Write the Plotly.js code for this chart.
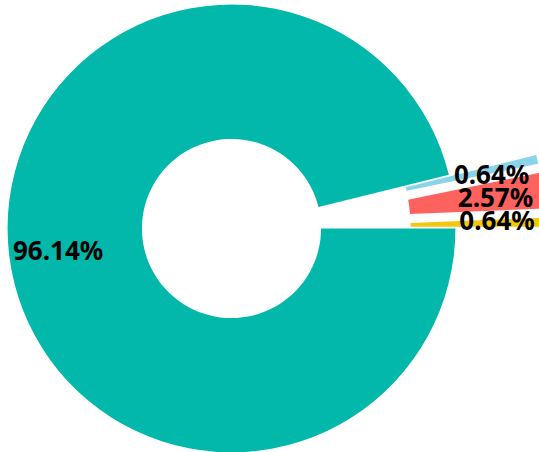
<!DOCTYPE html>
<html>
<head>
<meta charset="utf-8">
<script src="https://cdn.plot.ly/plotly-3.0.1.min.js"></script>
<style>
html, body { margin: 0; padding: 0; overflow: hidden; width: 539px; height: 452px; background: #ffffff; }
#chart { position: absolute; left: -82px; top: -85px; width: 627px; height: 627px; }
</style>
</head>
<body>
<div id="chart"></div>
<script>
// Data (counts giving 96.14% / 0.64% / 2.57% / 0.64%)
const categories = ['Category A', 'Category B', 'Category C', 'Category D'];
const counts = [299, 2, 8, 2];

const colors = ['#01B8AA', '#8AD4EB', '#FD625E', '#F2C80F'];
const clear = ['rgba(0,0,0,0)', 'rgba(0,0,0,0)', 'rgba(0,0,0,0)', 'rgba(0,0,0,0)'];
const labelFont = { family: 'Noto Sans, Open Sans, sans-serif', size: 26, color: '#000000', weight: 'bold' };
const inner = 0.5 / 1.4;
const mainLabelDomain = { x: [0.5 - inner, 0.5 + inner], y: [0.5 - inner, 0.5 + inner] };
const sideLabelDomain = { x: [0.5 - inner - 0.008, 0.5 + inner - 0.008], y: [0.5 - inner + 0.0065, 0.5 + inner + 0.0065] };

const slicesTrace = {
  type: 'pie',
  labels: categories,
  values: counts,
  sort: false,
  direction: 'clockwise',
  rotation: 90,
  hole: 0.4,
  pull: [0, 0.4, 0.4, 0.4],
  marker: { colors: colors, line: { width: 0 } },
  textinfo: 'none',
  hoverinfo: 'label+percent',
  showlegend: false,
  domain: { x: [0, 1], y: [0, 1] }
};

// Label-only traces (transparent slices), one per label so labels are not pushed apart
function labelTrace(positions, hole, domain) {
  return {
    type: 'pie',
    labels: categories,
    values: counts,
    sort: false,
    direction: 'clockwise',
    rotation: 90,
    hole: hole,
    marker: { colors: clear, line: { width: 0 } },
    texttemplate: '%{percent:.2%}',
    textposition: positions,
    insidetextorientation: 'horizontal',
    textfont: labelFont,
    insidetextfont: labelFont,
    outsidetextfont: labelFont,
    hoverinfo: 'skip',
    showlegend: false,
    domain: domain
  };
}

const traces = [
  slicesTrace,
  labelTrace(['inside', 'none', 'none', 'none'], 0.56, mainLabelDomain),
  labelTrace(['none', 'outside', 'none', 'none'], 0.4, sideLabelDomain),
  labelTrace(['none', 'none', 'outside', 'none'], 0.4, sideLabelDomain),
  labelTrace(['none', 'none', 'none', 'outside'], 0.4, sideLabelDomain)
];

const layout = {
  width: 627,
  height: 627,
  margin: { l: 0, r: 0, t: 0, b: 0 },
  paper_bgcolor: 'rgba(0,0,0,0)',
  plot_bgcolor: 'rgba(0,0,0,0)',
  showlegend: false,
  uniformtext: { mode: 'show', minsize: 26 }
};

Plotly.newPlot('chart', traces, layout, { displayModeBar: false, staticPlot: true });
</script>
</body>
</html>
